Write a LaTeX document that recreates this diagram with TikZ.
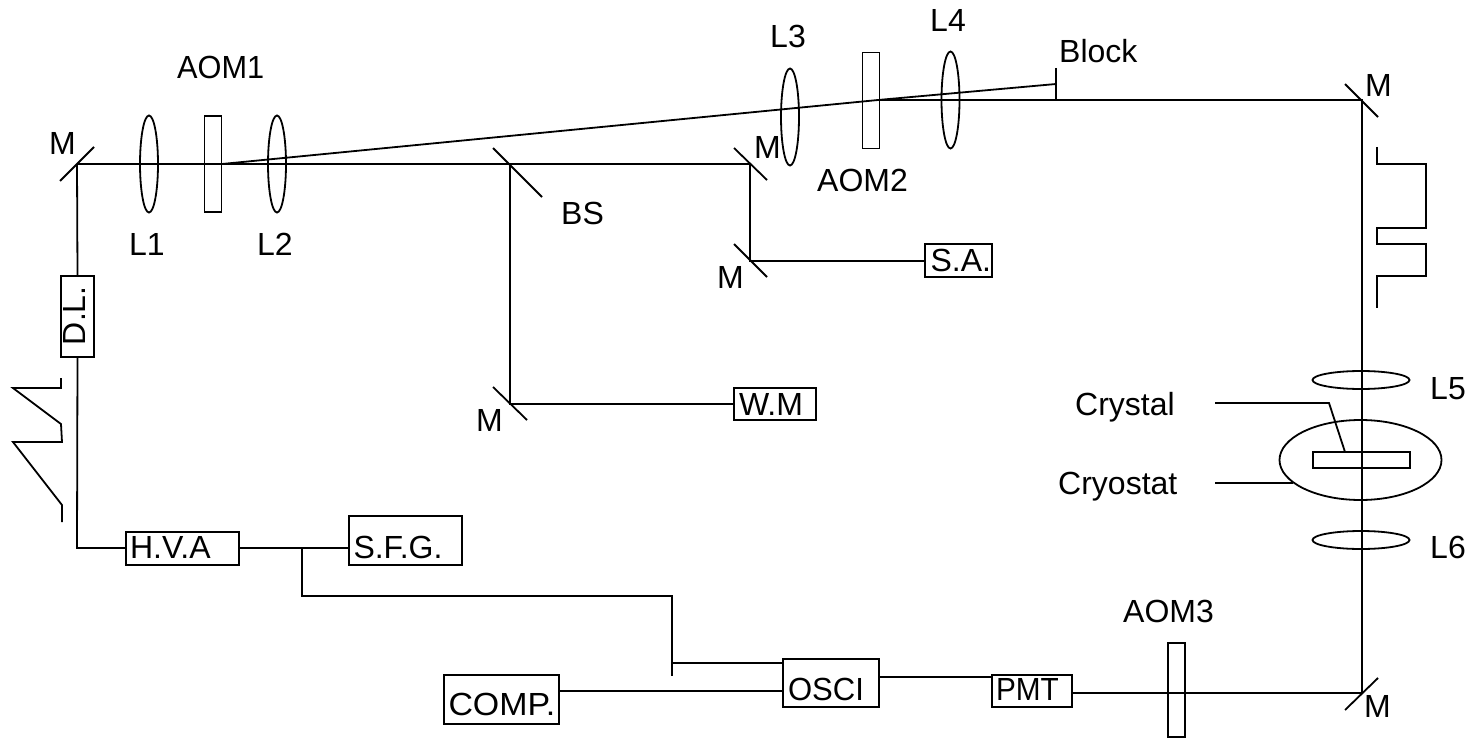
\documentclass[tikz,border=0pt]{standalone}
\usepackage{fontspec}
\usepackage{graphicx}
\setmainfont{Liberation Sans}
\usetikzlibrary{shapes.geometric,calc}
\newcommand\boxtext[3]{\smash{\makebox[0pt][l]{\hspace{#1pt}\raisebox{#2pt}[0pt][0pt]{#3}}}}
\tikzset{
  ln/.style={line width=1.8pt,line join=miter},
  devbox/.style={ln,draw,rectangle,inner sep=0pt},
  lensv/.style={ln,draw,ellipse,inner sep=0pt,minimum width=18pt,minimum height=97pt},
  lensh/.style={ln,draw,ellipse,inner sep=0pt,minimum width=97pt,minimum height=18pt},
  aom/.style={ln,draw,rectangle,inner sep=0pt,minimum width=17pt,minimum height=96pt},
  txt/.style={inner sep=0pt,anchor=base west,font=\fontsize{32}{36}\selectfont},
  boxfont/.style={font=\fontsize{32}{36}\selectfont},
}
\begin{document}
\begin{tikzpicture}[x=1pt,y=-1pt]
\useasboundingbox (0,0) rectangle (1469,738);
% junction points
\coordinate (m1) at (77,164);
\coordinate (bs) at (510,164);
\coordinate (m2) at (750,164);
\coordinate (m3) at (750,261);
\coordinate (m4) at (510,404);
\coordinate (m5) at (1362,100);
\coordinate (m6) at (1362,693);
\coordinate (a1) at (222,164);
\coordinate (a2) at (878,100);
\coordinate (blk) at (1056,84);
\coordinate (blkt) at (1056,68);
\coordinate (blkb) at (1056,100);
\coordinate (j1) at (302,548);
\coordinate (j2) at (302,596);
\coordinate (j3) at (672,596);
\coordinate (j4) at (672,676);
\coordinate (j5) at (672,663);
\coordinate (j6) at (77,548);
% devices
\node[devbox,boxfont,minimum width=33pt,minimum height=81pt] (dl) at (77.5,316.5) {\boxtext{-14.5}{-28.5}{\rotatebox{90}{D.L.}}};
\node[devbox,boxfont,minimum width=113pt,minimum height=33pt] (hva) at (182.5,548.5) {\boxtext{-52.5}{-9.5}{H.V.A}};
\node[devbox,boxfont,minimum width=113pt,minimum height=49pt] (sfg) at (405.5,540.5) {\boxtext{-52}{-17.5}{S.F.G.}};
\node[devbox,boxfont,minimum width=115pt,minimum height=49pt] (comp) at (501.5,699.5) {\boxtext{-53}{-16}{\scalebox{1.06}[1]{COMP.}}};
\node[devbox,boxfont,minimum width=96pt,minimum height=48pt] (osci) at (831,683) {\boxtext{-43}{-17}{\scalebox{0.97}[1]{OSCI}}};
\node[devbox,boxfont,minimum width=80pt,minimum height=32pt] (pmt) at (1032,691) {\boxtext{-36}{-9}{\scalebox{0.93}[1]{PMT}}};
\node[devbox,boxfont,minimum width=67pt,minimum height=33pt] (sa) at (958.5,260.5) {\boxtext{-28}{-11}{S.A.}};
\node[devbox,boxfont,minimum width=82pt,minimum height=32pt] (wm) at (775,404) {\boxtext{-36}{-11}{W.M}};
% beams
\draw[ln] (m1) -- (a1) -- (bs) -- (m2) -- (m3) -- (sa.west |- m3);
\draw[ln] (bs) -- (m4) -- (wm.west |- m4);
\draw[ln] (a1) -- (a2) -- (blk);
\draw[ln] (a2) -- (blkb) -- (m5) -- (m6) -- (pmt.east |- m6);
\draw[ln] (blkt) -- (blkb);
\draw[ln] (m1) -- (dl.north);
\draw[ln] (dl.south) -- (j6) -- (hva.west |- j6);
\draw[ln] (hva.east |- j1) -- (j1) -- (sfg.west |- j1);
\draw[ln] (j1) -- (j2) -- (j3) -- (j4);
\draw[ln] (j5) -- (osci.west |- j5);
\draw[ln] (comp.east |- 0,691) -- (osci.west |- 0,691);
\draw[ln] (osci.east |- 0,677) -- (pmt.west |- 0,677);
% mirrors
\draw[ln] ($(m1)+(-17,17)$) -- ($(m1)+(17,-17)$);
\draw[ln] ($(bs)+(-17,-16)$) -- ($(bs)+(32,33)$);
\draw[ln] ($(m2)+(-16,-16)$) -- ($(m2)+(17,16)$);
\draw[ln] ($(m3)+(-16,-17)$) -- ($(m3)+(17,16)$);
\draw[ln] ($(m4)+(-17,-17)$) -- ($(m4)+(17,16)$);
\draw[ln] ($(m5)+(-17,-16)$) -- ($(m5)+(16,17)$);
\draw[ln] ($(m6)+(-17,17)$) -- ($(m6)+(16,-15)$);
% optics
\node[lensv] (l1) at (149,164) {};
\node[aom] (aom1) at (213,164) {};
\node[lensv] (l2) at (277,164) {};
\node[lensv] (l3) at (790,117) {};
\node[aom] (aom2) at (871,100.5) {};
\node[lensv] (l4) at (950.5,100) {};
\node[lensh] (l5) at (1361,380) {};
\node[lensh] (l6) at (1361,540) {};
\node[aom,minimum height=94pt] (aom3) at (1176.5,690) {};
\node[ln,draw,ellipse,inner sep=0pt,minimum width=162pt,minimum height=80pt] (cryo) at (1360.5,460) {};
\node[ln,draw,rectangle,inner sep=0pt,minimum width=97pt,minimum height=16pt] (crys) at (1361.5,460) {};
% leaders
\coordinate (cl0) at (1215,403);
\coordinate (cl1) at (1329,403);
\coordinate (cl2) at (1345,452);
\coordinate (cy0) at (1215,483);
\coordinate (cy1) at (1293,483);
\draw[ln] (cl0) -- (cl1) -- (cl2);
\draw[ln] (cy0) -- (cy1);
% waveforms
\draw[ln] (1377,147) -- (1377,164) -- (1426,164) -- (1426,228) -- (1377,228) -- (1377,244) -- (1426,244) -- (1426,276) -- (1377,276) -- (1377,308);
\draw[ln] (61,378) -- (61,388) -- (13,388) -- (61,424) -- (62,442) -- (13,442) -- (62,505) -- (62,522);
% labels
\node[txt] (t1) at (49,155) {M};
\node[txt] (t2) at (177,79) {\scalebox{0.96}[1]{AOM1}};
\node[txt] (t3) at (129,255) {L1};
\node[txt] (t4) at (257,255) {L2};
\node[txt] (t5) at (561,224) {BS};
\node[txt] (t6) at (754,159) {M};
\node[txt] (t7) at (717,288) {M};
\node[txt] (t8) at (476,431) {M};
\node[txt] (t9) at (770,48) {L3};
\node[txt] (t10) at (930,32) {L4};
\node[txt] (t11) at (817,192) {AOM2};
\node[txt] (t12) at (1059,63) {Block};
\node[txt] (t13) at (1365,97) {M};
\node[txt] (t14) at (1364,717) {M};
\node[txt] (t15) at (1430,399) {L5};
\node[txt] (t16) at (1430,558) {L6};
\node[txt] (t17) at (1075,415) {Crystal};
\node[txt] (t18) at (1058,494) {Cryostat};
\node[txt] (t19) at (1123,622) {AOM3};
\end{tikzpicture}
\end{document}
